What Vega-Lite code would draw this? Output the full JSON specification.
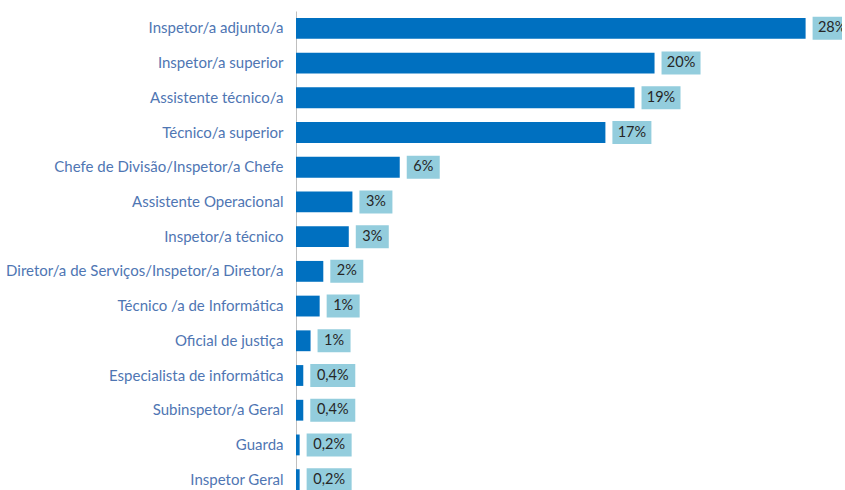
{
  "$schema": "https://vega.github.io/schema/vega-lite/v6.json",
  "width": 546,
  "height": 486,
  "autosize": {"type": "none"},
  "padding": {"left": 296, "top": 11, "right": 0, "bottom": 0},
  "background": "white",
  "data": {
    "values": [
      {"cat": "Inspetor/a adjunto/a", "value": 28.0, "label": "28%"},
      {"cat": "Inspetor/a superior", "value": 19.7, "label": "20%"},
      {"cat": "Assistente técnico/a", "value": 18.6, "label": "19%"},
      {"cat": "Técnico/a superior", "value": 17.0, "label": "17%"},
      {"cat": "Chefe de Divisão/Inspetor/a Chefe", "value": 5.7, "label": "6%"},
      {"cat": "Assistente Operacional", "value": 3.1, "label": "3%"},
      {"cat": "Inspetor/a técnico", "value": 2.9, "label": "3%"},
      {"cat": "Diretor/a de Serviços/Inspetor/a Diretor/a", "value": 1.5, "label": "2%"},
      {"cat": "Técnico /a de Informática", "value": 1.3, "label": "1%"},
      {"cat": "Oficial de justiça", "value": 0.8, "label": "1%"},
      {"cat": "Especialista de informática", "value": 0.4, "label": "0,4%"},
      {"cat": "Subinspetor/a Geral", "value": 0.4, "label": "0,4%"},
      {"cat": "Guarda", "value": 0.2, "label": "0,2%"},
      {"cat": "Inspetor Geral", "value": 0.2, "label": "0,2%"}
    ]
  },
  "encoding": {
    "y": {
      "field": "cat",
      "type": "nominal",
      "sort": null,
      "scale": {"paddingInner": 0.4, "paddingOuter": 0.2},
      "axis": {
        "title": null,
        "ticks": false,
        "domain": true,
        "domainColor": "#bfbfbf",
        "domainWidth": 1,
        "labelPadding": 13,
        "labelFont": "Lato",
        "labelFontSize": 15,
        "labelColor": "#4f76b3",
        "labelLimit": 0
      }
    }
  },
  "layer": [
    {
      "mark": {"type": "bar", "color": "#0070c0"},
      "encoding": {
        "x": {"field": "value", "type": "quantitative", "scale": {"domain": [0, 30]}, "axis": null}
      }
    },
    {
      "transform": [{"filter": "length(datum.label) == 2"}],
      "layer": [
        {
          "mark": {"type": "bar", "color": "#93cddd", "height": 23, "xOffset": 7, "x2Offset": 40},
          "encoding": {"x": {"field": "value", "type": "quantitative"}, "x2": {"field": "value"}}
        },
        {
          "mark": {"type": "text", "align": "center", "baseline": "middle", "dx": 23.5, "font": "Lato", "fontSize": 14.5, "color": "#262626"},
          "encoding": {"x": {"field": "value", "type": "quantitative"}, "text": {"field": "label"}}
        }
      ]
    },
    {
      "transform": [{"filter": "length(datum.label) == 3"}],
      "layer": [
        {
          "mark": {"type": "bar", "color": "#93cddd", "height": 23, "xOffset": 7, "x2Offset": 46},
          "encoding": {"x": {"field": "value", "type": "quantitative"}, "x2": {"field": "value"}}
        },
        {
          "mark": {"type": "text", "align": "center", "baseline": "middle", "dx": 26.5, "font": "Lato", "fontSize": 14.5, "color": "#262626"},
          "encoding": {"x": {"field": "value", "type": "quantitative"}, "text": {"field": "label"}}
        }
      ]
    },
    {
      "transform": [{"filter": "length(datum.label) == 4"}],
      "layer": [
        {
          "mark": {"type": "bar", "color": "#93cddd", "height": 23, "xOffset": 7, "x2Offset": 52},
          "encoding": {"x": {"field": "value", "type": "quantitative"}, "x2": {"field": "value"}}
        },
        {
          "mark": {"type": "text", "align": "center", "baseline": "middle", "dx": 29.5, "font": "Lato", "fontSize": 14.5, "color": "#262626"},
          "encoding": {"x": {"field": "value", "type": "quantitative"}, "text": {"field": "label"}}
        }
      ]
    }
  ],
  "config": {"view": {"stroke": null}}
}
